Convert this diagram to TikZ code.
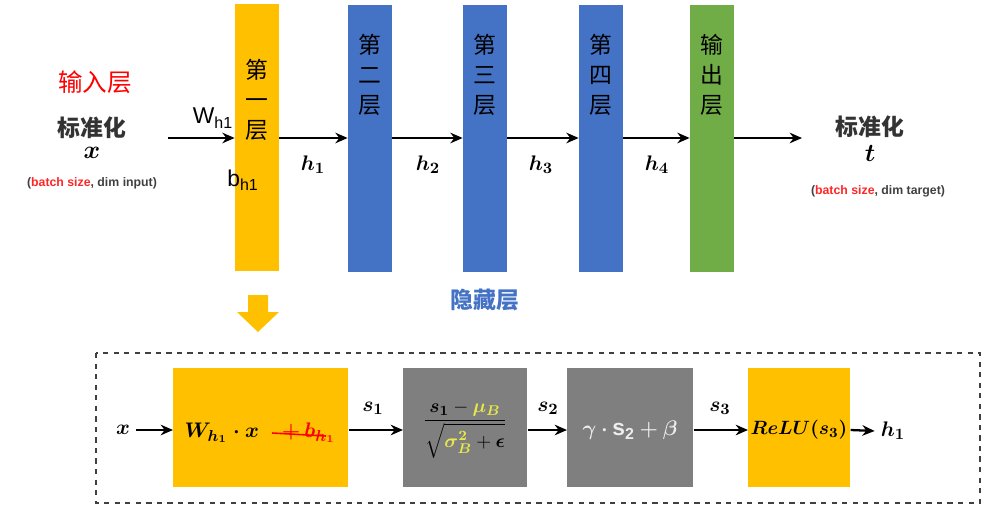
\documentclass[tikz,border=0pt]{standalone}
\usepackage{fontspec}
\usepackage{amsmath}
\setmainfont{Liberation Sans}
\newfontfamily\cjk{Noto Sans CJK SC}
\usetikzlibrary{arrows.meta}
\definecolor{ylw}{HTML}{FFC000}
\definecolor{blu}{HTML}{4472C4}
\definecolor{grn}{HTML}{70AD47}
\definecolor{gry}{HTML}{7F7F7F}
\definecolor{ylt}{HTML}{E8E84A}
\begin{document}
\begin{tikzpicture}[x=0.02cm,y=-0.02cm,
  bar/.style={minimum width=0.88cm,minimum height=5.34cm,inner sep=0,anchor=north},
  vtext/.style={font=\cjk\fontsize{13}{17}\selectfont,align=center},
  arr/.style={-{Stealth[length=7pt,width=6pt]},line width=1.3pt},
  lab/.style={font=\fontsize{13}{15}\selectfont},
  bbox/.style={inner sep=0,anchor=north west}]
\useasboundingbox (0,0) rectangle (1000,513);
% top bars
\node[bar,fill=ylw] (L1) at (257,4) {};
\node[bar,fill=blu] (L2) at (370,5) {};
\node[bar,fill=blu] (L3) at (485,5) {};
\node[bar,fill=blu] (L4) at (601,5) {};
\node[bar,fill=grn] (L5) at (712,5) {};
\node[vtext] (t1) at (257,100) {第\\一\\层};
\node[vtext] (t2) at (370,75) {第\\二\\层};
\node[vtext] (t3) at (485,75) {第\\三\\层};
\node[vtext] (t4) at (601,75) {第\\四\\层};
\node[vtext] (t5) at (712,75) {输\\出\\层};
% left texts
\node[font=\cjk\fontsize{14}{16}\selectfont,text=red] (inl) at (95,82) {输入层};
\node[font=\cjk\bfseries\fontsize{13}{15}\selectfont,text=black!80] (inx) at (92,128) {标准化};
\node[font=\fontsize{14}{16}\selectfont] (xx) at (92,153) {$\boldsymbol{x}$};
\node[font=\bfseries\fontsize{7}{9}\selectfont,text=black!75] (ind) at (92,183) {(\textcolor{red!85!white}{batch size}, dim input)};
\coordinate (xin) at (168,138);
\draw[arr] (xin) -- (L1.west |- xin);
\node[font=\fontsize{13}{15}\selectfont] (W) at (213,118) {W$_{\text{h1}}$};
\node[font=\fontsize{13}{15}\selectfont] (bh) at (243,180) {b$_{\text{h1}}$};
% right texts
\node[font=\cjk\bfseries\fontsize{13}{15}\selectfont,text=black!80] (outl) at (870,127) {标准化};
\node[font=\fontsize{14}{16}\selectfont] (tt) at (870,153) {$\boldsymbol{t}$};
\node[font=\bfseries\fontsize{7}{9}\selectfont,text=black!75] (outd) at (878,191) {(\textcolor{red!85!white}{batch size}, dim target)};
\coordinate (tout) at (802,138);
% connectors
\draw[arr] (L1.east |- xin) -- (L2.west |- xin);
\draw[arr] (L2.east |- xin) -- (L3.west |- xin);
\draw[arr] (L3.east |- xin) -- (L4.west |- xin);
\draw[arr] (L4.east |- xin) -- (L5.west |- xin);
\draw[arr] (L5.east |- xin) -- (tout);
\node[lab] (h1) at (313,165) {$\boldsymbol{h_1}$};
\node[lab] (h2) at (428,165) {$\boldsymbol{h_2}$};
\node[lab] (h3) at (541,165) {$\boldsymbol{h_3}$};
\node[lab] (h4) at (657,165) {$\boldsymbol{h_4}$};
\node[font=\cjk\bfseries\fontsize{13}{15}\selectfont,text=blu] (hid) at (485,300) {隐藏层};
% block arrow
\fill[ylw] (248,295) -- (268,295) -- (268,312) -- (279,312) -- (258,332) -- (237,312) -- (248,312) -- cycle;
% bottom
\draw[dashed,line width=1.1pt,black!75] (96,353) rectangle (980,503);
\node[bbox,fill=ylw,minimum width=3.5cm,minimum height=2.38cm] (B1) at (173,368) {};
\node[bbox,fill=gry,minimum width=2.48cm,minimum height=2.38cm] (B2) at (403,368) {};
\node[bbox,fill=gry,minimum width=2.52cm,minimum height=2.38cm] (B3) at (567,368) {};
\node[bbox,fill=ylw,minimum width=2.04cm,minimum height=2.38cm] (B4) at (748,368) {};
\node[lab] (f1) at (260,433) {$\boldsymbol{W_{h_1}\cdot x}$\quad\textcolor{red}{$\boldsymbol{+\,b_{h_1}}$}};
\draw[red,line width=0.9pt] (272,433) -- (326,436);
\node[font=\fontsize{11}{13}\selectfont] (f2) at (465,430) {$\dfrac{\boldsymbol{s_1}-\textcolor{ylt}{\boldsymbol{\mu_B}}}{\sqrt{\textcolor{ylt}{\boldsymbol{\sigma_B^2}}+\boldsymbol{\epsilon}}}$};
\node[lab,text=white!85!gray] (f3) at (630,430) {$\boldsymbol{\gamma}\boldsymbol{\cdot}\mathbf{s_2}\boldsymbol{+}\boldsymbol{\beta}$};
\node[font=\fontsize{11}{13}\selectfont] (f4) at (799,430) {$\boldsymbol{ReLU(s_3)}$};
\node[lab] (bx) at (123,430) {$\boldsymbol{x}$};
\node[lab] (bh1) at (893,431) {$\boldsymbol{h_1}$};
\draw[arr] (bx.east) -- (B1.west |- bx);
\draw[arr] (B1.east |- bx) -- (B2.west |- bx);
\draw[arr] (B2.east |- bx) -- (B3.west |- bx);
\draw[arr] (B3.east |- bx) -- (B4.west |- bx);
\draw[arr] (B4.east |- bx) -- (bh1.west);
\node[lab] (s1) at (373,408) {$\boldsymbol{s_1}$};
\node[lab] (s2) at (548,408) {$\boldsymbol{s_2}$};
\node[lab] (s3) at (720,408) {$\boldsymbol{s_3}$};
\end{tikzpicture}
\end{document}
